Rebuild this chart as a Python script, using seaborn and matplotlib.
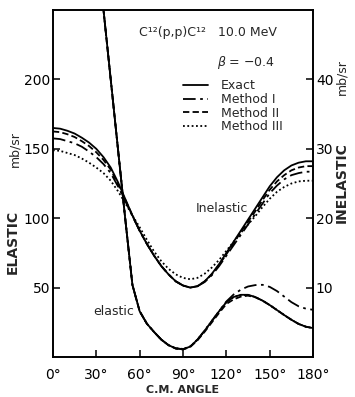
import matplotlib
matplotlib.use("Agg")
import matplotlib.pyplot as plt
import seaborn as sns
import pandas as pd

# C12(p,p)C12 at 10.0 MeV, beta = -0.4: elastic and inelastic cross sections
angle = [0, 5, 10, 15, 20, 25, 30, 35, 40, 45, 50, 55, 60, 65, 70, 75, 80, 85, 90,
         95, 100, 105, 110, 115, 120, 125, 130, 135, 140, 145, 150, 155, 160, 165,
         170, 175, 180]

# elastic, mb/sr (left scale)
el_angle = angle[6:]
el_exact = [310, 250, 200, 150, 100, 52, 33, 24, 18, 12.5, 8.5, 6.2, 5.6,
            7.5, 12.5, 19, 26, 33, 39.5, 43.2, 44.8, 44.8, 43.2, 40.6, 37.4,
            33.8, 30.2, 26.8, 23.8, 21.8, 20.8]
el_m1 = [310, 250, 200, 150, 100, 52, 33, 24, 18, 12.5, 8.5, 6.2, 5.6,
         7.5, 12.5, 19, 26, 33, 40, 45, 48.5, 50.8, 51.8, 52, 50.5,
         47.5, 43.5, 39.5, 36.5, 34.8, 34]
el_m2 = [310, 250, 200, 150, 100, 52, 33, 24, 18, 12.5, 8.5, 6.0, 5.4,
         7.2, 12.0, 18.2, 25, 31.8, 38.2, 41.5, 43.5, 44.2, 43.0, 40.6, 37.4,
         33.8, 30.2, 26.8, 23.8, 21.8, 20.8]
el_m3 = [310, 250, 200, 150, 100, 52, 33, 24, 18, 12.5, 8.5, 6.3, 5.8,
         7.6, 12.5, 19, 26, 33, 39.5, 43.2, 44.6, 44.6, 43.2, 40.6, 37.4,
         33.8, 30.2, 26.8, 23.8, 21.8, 20.8]

# inelastic, mb/sr (right scale)
in_exact = [33.0, 32.9, 32.6, 32.2, 31.6, 30.9, 30.0, 28.8, 27.3, 25.2, 22.8, 20.4,
            18.2, 16.3, 14.6, 13.1, 11.9, 10.9, 10.3, 10.0, 10.2, 10.9, 12.0, 13.4,
            15.0, 16.6, 18.2, 19.8, 21.4, 23.0, 24.6, 25.9, 26.9, 27.6, 28.0, 28.2, 28.2]
in_m1 = [31.5, 31.4, 31.1, 30.8, 30.3, 29.6, 28.8, 27.8, 26.5, 24.6, 22.5, 20.3,
         18.2, 16.3, 14.6, 13.1, 11.9, 10.9, 10.3, 10.0, 10.2, 10.8, 11.8, 13.1,
         14.6, 16.1, 17.6, 19.1, 20.6, 22.1, 23.6, 24.7, 25.6, 26.2, 26.5, 26.7, 26.7]
in_m2 = [32.5, 32.4, 32.1, 31.7, 31.1, 30.4, 29.5, 28.4, 27.0, 24.9, 22.7, 20.4,
         18.2, 16.3, 14.6, 13.1, 11.9, 10.9, 10.3, 10.0, 10.2, 10.9, 11.9, 13.3,
         14.8, 16.4, 18.0, 19.5, 21.0, 22.6, 24.1, 25.3, 26.2, 26.9, 27.3, 27.5, 27.5]
in_m3 = [29.8, 29.7, 29.4, 29.1, 28.6, 28.0, 27.3, 26.5, 25.4, 23.9, 22.2, 20.4,
         18.7, 16.9, 15.2, 13.8, 12.7, 11.9, 11.4, 11.2, 11.4, 12.0, 12.9, 14.0,
         15.3, 16.6, 17.9, 19.1, 20.3, 21.6, 22.8, 23.8, 24.5, 25.0, 25.3, 25.4, 25.4]

series = ["Exact", "Method I", "Method II", "Method III"]
styles = {"Exact": "-",
          "Method I": (0, (7, 2.5, 1.5, 2.5)),
          "Method II": (0, (3.5, 1.8)),
          "Method III": (0, (1, 1.4))}

elastic = pd.concat([pd.DataFrame({"angle": el_angle, "xs": v, "method": m})
                     for m, v in zip(series, [el_exact, el_m1, el_m2, el_m3])])
inelastic = pd.concat([pd.DataFrame({"angle": angle, "xs": v, "method": m})
                       for m, v in zip(series, [in_exact, in_m1, in_m2, in_m3])])

sns.set_style("ticks")
plt.rcParams["font.family"] = ["DejaVu Sans"]

fig = plt.figure(figsize=(3.55, 3.97), dpi=100)
ax = fig.add_axes([0.149, 0.1008, 0.733, 0.874])
ax2 = ax.twinx()

lw = 1.3
for m in series:
    sns.lineplot(data=elastic[elastic.method == m], x="angle", y="xs", ax=ax,
                 color="black", linewidth=lw, linestyle=styles[m], label=m)
    sns.lineplot(data=inelastic[inelastic.method == m], x="angle", y="xs", ax=ax2,
                 color="black", linewidth=lw, linestyle=styles[m], legend=False)

ax.set_xlim(0, 180)
ax.set_ylim(0, 250)
ax2.set_ylim(0, 50)
ax.set_xticks([0, 30, 60, 90, 120, 150, 180])
ax.set_xticklabels([f"{a}°" for a in [0, 30, 60, 90, 120, 150, 180]])
ax.set_yticks([50, 100, 150, 200])
ax2.set_yticks([10, 20, 30, 40])

for a in (ax, ax2):
    for s in a.spines.values():
        s.set_visible(True)
        s.set_linewidth(1.2)
        s.set_color("black")
    a.tick_params(direction="in", length=5, width=1.1, labelsize=10, colors="black")
ax.tick_params(axis="x", pad=8)
ax.tick_params(axis="y", pad=2)
ax2.tick_params(axis="y", pad=2)

ax.set_xlabel("C.M. ANGLE", fontsize=8, fontweight="bold", labelpad=2)
ax.set_ylabel("")
ax2.set_ylabel("")

# axis titles: quantity name plus unit on each side
fig.text(0.037, 0.39, "ELASTIC", rotation=90, ha="center", va="center",
         fontsize=10, fontweight="bold")
fig.text(0.042, 0.625, "mb/sr", rotation=90, ha="center", va="center", fontsize=9)
fig.text(0.963, 0.54, "INELASTIC", rotation=90, ha="center", va="center",
         fontsize=10, fontweight="bold")
fig.text(0.963, 0.805, "mb/sr", rotation=90, ha="center", va="center", fontsize=9)

ax.text(0.33, 0.935, "C¹²(p,p)C¹²   10.0 MeV", transform=ax.transAxes,
        fontsize=9, ha="left", va="center")
ax.text(0.63, 0.85, "$\\beta$ = −0.4", transform=ax.transAxes,
        fontsize=9, ha="left", va="center")
ax.text(0.55, 0.428, "Inelastic", transform=ax.transAxes, fontsize=9, ha="left", va="center")
ax.text(0.155, 0.13, "elastic", transform=ax.transAxes, fontsize=9, ha="left", va="center")

ax.legend(loc="upper left", bbox_to_anchor=(0.5, 0.8), frameon=False, fontsize=9,
          handlelength=2.0, handletextpad=1.0, labelspacing=0.05,
          borderaxespad=0, borderpad=0)

fig.savefig("out.png", dpi=100)
